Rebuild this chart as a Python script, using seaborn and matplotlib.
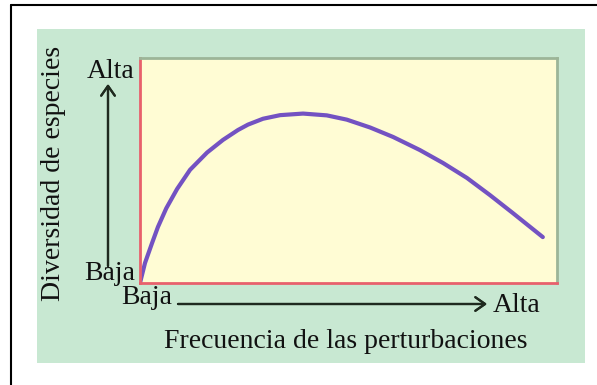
import numpy as np
import pandas as pd
import matplotlib.pyplot as plt
import seaborn as sns
from matplotlib.patches import Rectangle
from matplotlib.lines import Line2D

# --- Data (0-100 scale) --- #
frecuencia = [0, 1.2, 2.9, 4.3, 6.3, 8.9, 12.0, 16.1, 19.9, 23.5, 25.9, 29.5,
              33.6, 39.1, 44.8, 49.6, 55.2, 60.7, 67.1, 72.7, 78.4, 83.9,
              89.4, 96.6]
diversidad = [0, 8.9, 17.8, 24.9, 33.2, 41.8, 50.3, 58.0, 63.6, 68.0, 70.4, 73.0,
              74.6, 75.3, 74.5, 72.6, 69.1, 64.9, 59.1, 53.3, 46.7, 39.1,
              31.1, 20.4]
nivel_bajo = "Baja"
nivel_alto = "Alta"
xlabel = "Frecuencia de las perturbaciones"
ylabel = "Diversidad de especies"

df = pd.DataFrame({"Frecuencia": frecuencia, "Diversidad": diversidad})

sns.set_style("white")
plt.rcParams['font.family'] = ['Liberation Serif', 'DejaVu Serif']

W, H = 597, 385
fig = plt.figure(figsize=(W / 100, H / 100), dpi=100)
fig.patch.set_facecolor('white')


def fx(px):
    return px / W


def fy(py):
    return 1 - py / H


# green panel behind everything
fig.patches.append(Rectangle((fx(37), fy(363)), fx(585) - fx(37), fy(29) - fy(363),
                             transform=fig.transFigure, facecolor='#c8e8d2',
                             edgecolor='none', zorder=-5))
# black frame (top and left)
fig.lines.append(Line2D([fx(11), 1], [fy(5), fy(5)], transform=fig.transFigure,
                        color='black', lw=1.5, zorder=-4))
fig.lines.append(Line2D([fx(11), fx(11)], [fy(5), 0], transform=fig.transFigure,
                        color='black', lw=1.5, zorder=-4))

ax = fig.add_axes([fx(140), fy(283), fx(557) - fx(140), fy(58) - fy(283)])
ax.set_zorder(2)
ax.set_facecolor('#fffcd4')
sns.lineplot(data=df, x="Frecuencia", y="Diversidad", ax=ax, color='#7352c2',
             lw=3, sort=False, solid_capstyle='round', solid_joinstyle='round')
ax.set_xlim(0, 100)
ax.set_ylim(0, 100)
ax.set_xticks([])
ax.set_yticks([])
ax.set_xlabel("")
ax.set_ylabel("")
for side in ['left', 'bottom']:
    ax.spines[side].set_color('#e8606c')
    ax.spines[side].set_linewidth(2)
for side in ['top', 'right']:
    ax.spines[side].set_color('#9cb598')
    ax.spines[side].set_linewidth(2)
    ax.spines[side].set_visible(True)

fs = 20
tc = '#111111'
arrow_kw = dict(arrowstyle='->,head_length=0.5,head_width=0.35', color='#1f2a1f',
                lw=1.6, mutation_scale=14, shrinkA=0, shrinkB=0)
# vertical arrow
fig.add_artist(plt.annotate("", xy=(fx(108), fy(84)), xytext=(fx(108), fy(266)),
                            xycoords='figure fraction', arrowprops=arrow_kw))
# horizontal arrow
fig.add_artist(plt.annotate("", xy=(fx(487), fy(304)), xytext=(fx(178), fy(304)),
                            xycoords='figure fraction', arrowprops=arrow_kw))

fig.text(fx(111), fy(71), nivel_alto, fontsize=fs, ha='center', va='center', color=tc)
fig.text(fx(110), fy(274), nivel_bajo, fontsize=fs, ha='center', va='center', color=tc)
fig.text(fx(147), fy(298), nivel_bajo, fontsize=fs, ha='center', va='center', color=tc)
fig.text(fx(517), fy(305), nivel_alto, fontsize=fs, ha='center', va='center', color=tc)
fig.text(fx(346), fy(341), xlabel, fontsize=fs, ha='center', va='center', color=tc)
fig.text(fx(53), fy(173), ylabel, fontsize=fs, ha='center', va='center', rotation=90,
         color=tc)

fig.savefig("out.png", dpi=100)
